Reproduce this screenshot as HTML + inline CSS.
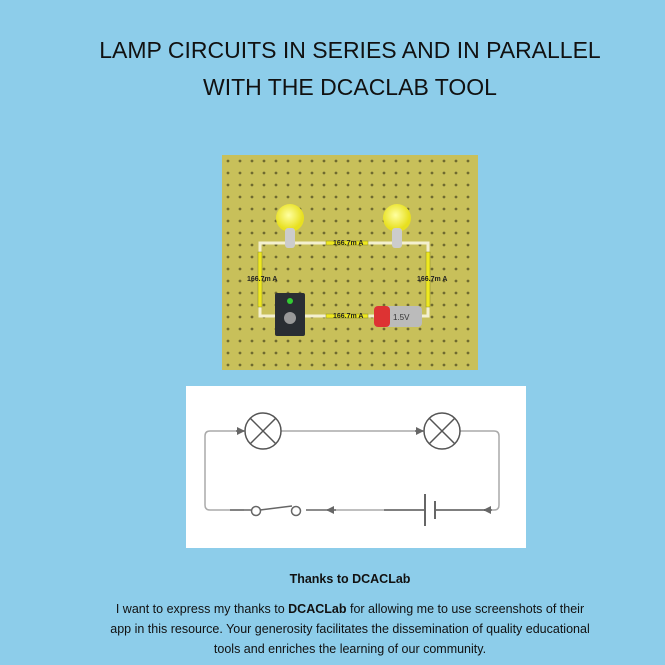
<!DOCTYPE html>
<html><head><style>
body{margin:0;width:665px;height:665px;background:#8dcdea;font-family:"Liberation Sans",sans-serif;position:relative;overflow:hidden}
.t{position:absolute;left:0;width:700px;text-align:center;font-size:23px;color:#111}
.p{position:absolute;left:0;width:700px;text-align:center;font-size:12.5px;color:#111;line-height:19px}
</style></head><body>
<div class="t" style="top:37px">LAMP CIRCUITS IN SERIES AND IN PARALLEL</div>
<div class="t" style="top:74px">WITH THE DCACLAB TOOL</div>
<svg style="position:absolute;left:0;top:0" width="665" height="665">
<defs>
<pattern id="d" x="226" y="159" width="12" height="12" patternUnits="userSpaceOnUse"><circle cx="2" cy="2" r="1.4" fill="#6f6a30"/></pattern>
<radialGradient id="b" cx="0.45" cy="0.4"><stop offset="0" stop-color="#ffffa0"/><stop offset="1" stop-color="#e8e020"/></radialGradient>
<marker id="a" markerWidth="8" markerHeight="8" refX="7" refY="4" orient="auto" markerUnits="userSpaceOnUse"><path d="M0,0L8,4L0,8z" fill="#666"/></marker>
</defs>
<rect x="222" y="155" width="256" height="215" fill="#c8c05a"/>
<rect x="222" y="155" width="256" height="215" fill="url(#d)"/>
<g stroke="#f4f0d0" stroke-width="3" fill="none">
<path d="M260 243H428V316H260Z"/>
</g>
<g fill="#eee820" stroke="#8a8a20" stroke-width="0.5">
<rect x="258" y="252" width="4" height="55"/><rect x="426" y="252" width="4" height="55"/>
<rect x="326" y="241" width="42" height="4"/><rect x="326" y="314" width="42" height="4"/>
</g>
<g font-size="7" font-weight="bold" fill="#222">
<text x="333" y="245">166.7m A</text><text x="333" y="318">166.7m A</text>
<text x="247" y="281">166.7m A</text><text x="417" y="281">166.7m A</text>
</g>
<circle cx="290" cy="218" r="14" fill="url(#b)"/><rect x="285" y="228" width="10" height="20" rx="3" fill="#ccc"/>
<circle cx="397" cy="218" r="14" fill="url(#b)"/><rect x="392" y="228" width="10" height="20" rx="3" fill="#ccc"/>
<rect x="275" y="293" width="30" height="43" rx="2" fill="#2a2e33"/><circle cx="290" cy="301" r="3" fill="#3c3"/><circle cx="290" cy="318" r="6" fill="#999"/>
<rect x="374" y="306" width="48" height="21" rx="4" fill="#bbb"/><rect x="374" y="306" width="16" height="21" rx="4" fill="#d33"/><text x="393" y="320" font-size="8" fill="#333">1.5V</text>
<rect x="186" y="386" width="340" height="162" fill="#fff"/>
<g stroke="#aaa" stroke-width="1.5" fill="none">
<path d="M245 431H210Q205 431 205 436V505Q205 510 210 510H244"/>
<path d="M281 431H424"/>
<path d="M460 431H494Q499 431 499 436V505Q499 510 494 510H486"/>
<path d="M330 510H384"/>
</g>
<g stroke="#666" stroke-width="1.5" fill="none">
<path d="M236 431H244" marker-end="url(#a)"/>
<path d="M415 431H423" marker-end="url(#a)"/>
<path d="M306 510H328" /><path d="M336 510H327" marker-end="url(#a)"/>
<path d="M492 510H484" marker-end="url(#a)"/>
<path d="M230 510H252"/><path d="M260 510L292 506"/>
<path d="M384 510H425M435 510H485" stroke="#555"/>
<path d="M425 494V526M435 501V519" stroke-width="2"/>
<circle cx="263" cy="431" r="18" stroke="#555"/><path d="M250 418L276 444M276 418L250 444" stroke="#555"/>
<circle cx="442" cy="431" r="18" stroke="#555"/><path d="M429 418L455 444M455 418L429 444" stroke="#555"/>
<circle cx="256" cy="511" r="4.5" fill="#fff"/><circle cx="296" cy="511" r="4.5" fill="#fff"/>
</g>
</svg>
<div class="p" style="top:570px;font-weight:bold">Thanks to DCACLab</div>
<div class="p" style="top:599px;line-height:20px">I want to express my thanks to <b>DCACLab</b> for allowing me to use screenshots of their<br>app in this resource. Your generosity facilitates the dissemination of quality educational<br>tools and enriches the learning of our community.</div>
</body></html>
